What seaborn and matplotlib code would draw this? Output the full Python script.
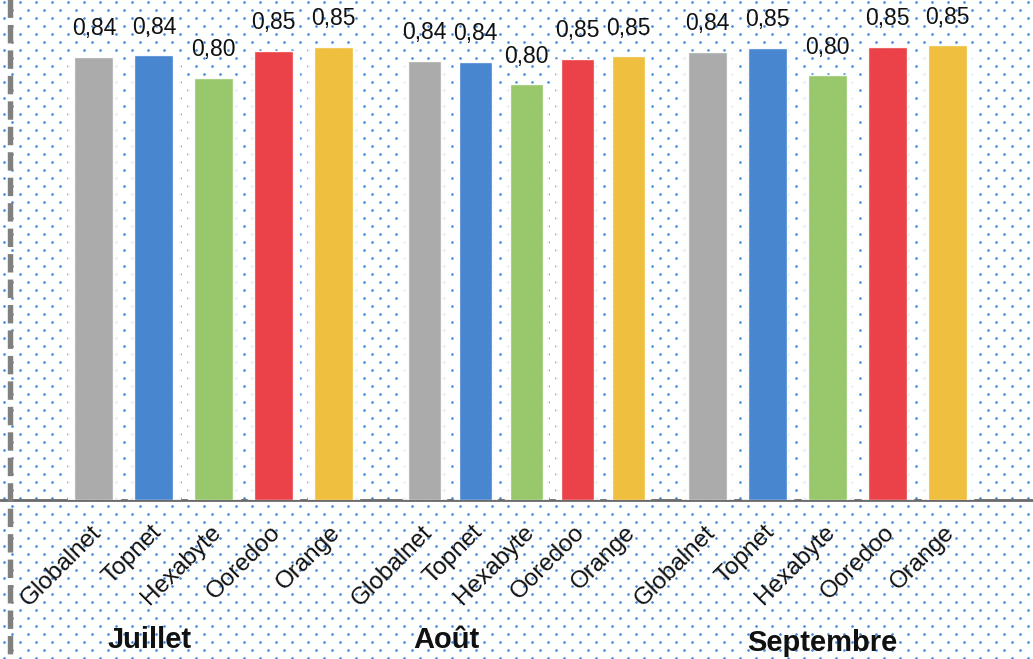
import numpy as np
import pandas as pd
import matplotlib
matplotlib.use("Agg")
import matplotlib.pyplot as plt
import matplotlib.transforms as mtransforms
import seaborn as sns

# ---------------- data ----------------
companies = ["Globalnet", "Topnet", "Hexabyte", "Ooredoo", "Orange"]
months = ["Juillet", "Août", "Septembre"]
values_juillet = [0.841, 0.844, 0.801, 0.852, 0.860]
values_aout = [0.833, 0.831, 0.789, 0.837, 0.842]
values_septembre = [0.850, 0.858, 0.806, 0.860, 0.863]
labels_juillet = ["0,84", "0,84", "0,80", "0,85", "0,85"]
labels_aout = ["0,84", "0,84", "0,80", "0,85", "0,85"]
labels_septembre = ["0,84", "0,85", "0,80", "0,85", "0,85"]
bar_colors = ["#a5a5a5", "#3a7dcc", "#90c460", "#e9333a", "#eeba30"]

all_values = [values_juillet, values_aout, values_septembre]
all_labels = [labels_juillet, labels_aout, labels_septembre]

sns.set_theme(style="white")
plt.rcParams["font.family"] = ["Liberation Sans", "DejaVu Sans"]

W, H = 1033, 659
fig = plt.figure(figsize=(W / 100, H / 100), dpi=100)
fig.patch.set_facecolor("white")

# dotted background pattern (decoration)
xs, ys = [], []
for j, yy in enumerate(np.arange(2, H + 8, 8)):
    off = 8 if j % 2 else 0
    for xx in np.arange(4 + off, W + 16, 16):
        xs.append(xx)
        ys.append(yy)

bg = fig.add_axes([0, 0, 1, 1])
bg.set_xlim(0, W)
bg.set_ylim(H, 0)
bg.axis("off")
bg.scatter(xs, ys, s=3.6, color="#3a8ae2", marker="o", linewidths=0, zorder=1)
bg.plot([0, W], [500, 500], color="#6a6a6a", lw=2.0, zorder=5)
bg.plot([10, 10], [-4, H], color="#808080", lw=3.9, dashes=(3.4, 1.3), zorder=5,
        solid_capstyle="butt")

baseline_px = 500
scale = 527.0  # px per unit
ymax = baseline_px / scale
bottom = (H - baseline_px) / H
height = baseline_px / H

group_extent = [(64, 363.5), (399, 654), (677.5, 977.5)]
month_pos = [(150, 640), (446, 640), (822, 643)]

for m, (vals, labs, (x0, x1)) in enumerate(zip(all_values, all_labels, group_extent)):
    ax = fig.add_axes([x0 / W, bottom, (x1 - x0) / W, height])
    ax.patch.set_alpha(0)
    df = pd.DataFrame({"company": companies, "value": vals})
    sns.barplot(data=df, x="company", y="value", color="white", width=0.86,
                saturation=1, alpha=0.85, ax=ax)
    sns.barplot(data=df, x="company", y="value", hue="company",
                palette=bar_colors, width=0.65, saturation=1, alpha=0.93,
                legend=False, ax=ax)
    for cont, lab in zip(ax.containers[1:], labs):
        ax.bar_label(cont, labels=[lab], padding=12, fontsize=16.5, color="#111111")
    ax.set_ylim(0, ymax)
    ax.set_xlim(-0.5, 4.5)
    ax.set_xlabel("")
    ax.set_ylabel("")
    ax.set_yticks([])
    for s in ax.spines.values():
        s.set_visible(False)
    ax.tick_params(axis="x", length=0, pad=21)
    ax.set_xticks(range(len(companies)))
    ax.set_xticklabels(companies, rotation=45, ha="right", va="center",
                       rotation_mode="anchor", fontsize=17.5, color="#111111")
    shift = mtransforms.ScaledTranslation(0.04, 0, fig.dpi_scale_trans)
    for t in ax.get_xticklabels():
        t.set_transform(t.get_transform() + shift)
    fig.text(month_pos[m][0] / W, 1 - month_pos[m][1] / H, months[m],
             ha="center", va="center", fontsize=21, fontweight="bold",
             color="#111111")

fig.savefig("out.png", dpi=100)
